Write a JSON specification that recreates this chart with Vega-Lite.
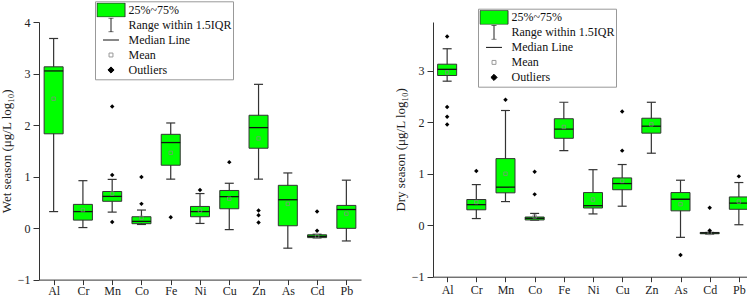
{
  "$schema": "https://vega.github.io/schema/vega-lite/v6.json",
  "padding": {"left": 0, "top": 0, "right": 0, "bottom": 0},
  "background": "white",
  "config": {
    "font": "Liberation Serif",
    "view": {"stroke": null},
    "axis": {"grid": false, "domainColor": "#333", "tickColor": "#333", "labelColor": "#222", "titleColor": "#222", "labelFont": "Liberation Serif", "titleFont": "Liberation Serif", "labelFontSize": 12, "titleFontSize": 13, "titleFontWeight": "normal", "domainWidth": 1, "tickWidth": 1},
    "legend": {"labelFont": "Liberation Serif", "labelFontSize": 12, "labelColor": "#111", "labelOffset": 3, "rowPadding": 0, "padding": 1.5, "strokeColor": "#999", "fillColor": "white", "symbolSize": 784, "symbolStrokeWidth": 1, "symbolOpacity": 1, "clipHeight": 14.4}
  },
  "datasets": {
    "wet": [
      {"el": "Al", "lo": 0.32, "q1": 1.83, "med": 3.05, "q3": 3.13, "hi": 3.68, "mean": 2.51},
      {"el": "Cr", "lo": 0.01, "q1": 0.155, "med": 0.32, "q3": 0.46, "hi": 0.92, "mean": 0.35},
      {"el": "Mn", "lo": 0.31, "q1": 0.52, "med": 0.615, "q3": 0.71, "hi": 0.945, "mean": 0.67},
      {"el": "Co", "lo": 0.07, "q1": 0.085, "med": 0.13, "q3": 0.22, "hi": 0.35, "mean": 0.2},
      {"el": "Fe", "lo": 0.95, "q1": 1.22, "med": 1.66, "q3": 1.82, "hi": 2.04, "mean": 1.46},
      {"el": "Ni", "lo": 0.09, "q1": 0.22, "med": 0.32, "q3": 0.42, "hi": 0.67, "mean": 0.34},
      {"el": "Cu", "lo": -0.03, "q1": 0.375, "med": 0.61, "q3": 0.73, "hi": 0.87, "mean": 0.57},
      {"el": "Zn", "lo": 0.95, "q1": 1.55, "med": 1.95, "q3": 2.19, "hi": 2.79, "mean": 1.74},
      {"el": "As", "lo": -0.39, "q1": 0.045, "med": 0.55, "q3": 0.83, "hi": 1.07, "mean": 0.47},
      {"el": "Cd", "lo": -0.19, "q1": -0.185, "med": -0.16, "q3": -0.13, "hi": -0.12, "mean": -0.16},
      {"el": "Pb", "lo": -0.25, "q1": -0.005, "med": 0.36, "q3": 0.44, "hi": 0.93, "mean": 0.28}
    ],
    "wetOut": [
      {"el": "Mn", "v": 2.36}, {"el": "Mn", "v": 1.03}, {"el": "Mn", "v": 0.12},
      {"el": "Co", "v": 0.99}, {"el": "Co", "v": 0.47},
      {"el": "Fe", "v": 0.21},
      {"el": "Ni", "v": 0.74},
      {"el": "Cu", "v": 1.28},
      {"el": "Zn", "v": 0.34}, {"el": "Zn", "v": 0.25}, {"el": "Zn", "v": 0.11},
      {"el": "Cd", "v": 0.32}, {"el": "Cd", "v": -0.05}
    ],
    "dry": [
      {"el": "Al", "lo": 2.8, "q1": 2.91, "med": 3.03, "q3": 3.13, "hi": 3.43, "mean": 2.97},
      {"el": "Cr", "lo": 0.13, "q1": 0.3, "med": 0.4, "q3": 0.5, "hi": 0.79, "mean": 0.45},
      {"el": "Mn", "lo": 0.46, "q1": 0.63, "med": 0.74, "q3": 1.295, "hi": 2.23, "mean": 1.0},
      {"el": "Co", "lo": 0.1, "q1": 0.103, "med": 0.135, "q3": 0.16, "hi": 0.23, "mean": 0.17},
      {"el": "Fe", "lo": 1.45, "q1": 1.69, "med": 1.87, "q3": 2.07, "hi": 2.39, "mean": 1.91},
      {"el": "Ni", "lo": 0.22, "q1": 0.335, "med": 0.38, "q3": 0.635, "hi": 1.08, "mean": 0.5},
      {"el": "Cu", "lo": 0.37, "q1": 0.69, "med": 0.81, "q3": 0.92, "hi": 1.18, "mean": 0.86},
      {"el": "Zn", "lo": 1.4, "q1": 1.79, "med": 1.925, "q3": 2.08, "hi": 2.39, "mean": 1.96},
      {"el": "As", "lo": -0.235, "q1": 0.28, "med": 0.505, "q3": 0.635, "hi": 0.875, "mean": 0.41},
      {"el": "Cd", "lo": -0.17, "q1": -0.165, "med": -0.15, "q3": -0.14, "hi": -0.14, "mean": -0.15},
      {"el": "Pb", "lo": 0.01, "q1": 0.31, "med": 0.43, "q3": 0.55, "hi": 0.83, "mean": 0.46}
    ],
    "dryOut": [
      {"el": "Al", "v": 3.67}, {"el": "Al", "v": 2.3}, {"el": "Al", "v": 2.11}, {"el": "Al", "v": 1.96},
      {"el": "Cr", "v": 1.055},
      {"el": "Mn", "v": 2.44},
      {"el": "Co", "v": 1.04}, {"el": "Co", "v": 0.6},
      {"el": "Cu", "v": 2.21}, {"el": "Cu", "v": 1.45},
      {"el": "As", "v": -0.58},
      {"el": "Cd", "v": 0.34}, {"el": "Cd", "v": -0.1},
      {"el": "Pb", "v": 0.95}
    ],
    "legendItems": []
  },
  "spacing": 33,
  "hconcat": [
    {
      "width": 322,
      "height": 257.6,
      "resolve": {"scale": {"color": "independent", "shape": "independent", "stroke": "independent"}},
      "layer": [
        {
          "data": {"name": "wet"},
          "mark": {"type": "rule", "color": "#333", "strokeWidth": 1.2, "opacity": 1},
          "encoding": {
            "x": {"field": "el", "type": "nominal", "sort": null,
              "scale": {"type": "point", "domain": ["Al","Cr","Mn","Co","Fe","Ni","Cu","Zn","As","Cd","Pb"], "padding": 0.5},
              "axis": {"title": null, "labelAngle": 0, "tickSize": 5, "labelPadding": 0.5, "labelFontSize": 12}},
            "y": {"field": "lo", "type": "quantitative",
              "scale": {"domain": [-1, 4], "nice": false, "zero": false},
              "axis": {"title": "Wet season (μg/L log₁₀)", "values": [-1, -0.5, 0, 0.5, 1, 1.5, 2, 2.5, 3, 3.5, 4],
                "labelExpr": "datum.value % 1 === 0 ? datum.label : ''",
                "tickSize": {"condition": {"test": "datum.value % 1 !== 0", "value": 3}, "value": 6},
                "labelPadding": 3, "titlePadding": 4}},
            "y2": {"field": "hi"}
          }
        },
        {
          "data": {"name": "wet"},
          "mark": {"type": "tick", "color": "#333", "size": 9, "thickness": 1.2, "opacity": 1},
          "encoding": {"x": {"field": "el", "type": "nominal"}, "y": {"field": "lo", "type": "quantitative"}}
        },
        {
          "data": {"name": "wet"},
          "mark": {"type": "tick", "color": "#333", "size": 9, "thickness": 1.2, "opacity": 1},
          "encoding": {"x": {"field": "el", "type": "nominal"}, "y": {"field": "hi", "type": "quantitative"}}
        },
        {
          "data": {"name": "wet"},
          "mark": {"type": "bar", "size": 19, "fill": "#00ff00", "stroke": "#333", "strokeWidth": 1, "opacity": 1},
          "encoding": {"x": {"field": "el", "type": "nominal"}, "y": {"field": "q1", "type": "quantitative"}, "y2": {"field": "q3"}}
        },
        {
          "data": {"name": "wet"},
          "mark": {"type": "tick", "color": "#111", "size": 19, "thickness": 1.3, "opacity": 1},
          "encoding": {"x": {"field": "el", "type": "nominal"}, "y": {"field": "med", "type": "quantitative"}}
        },
        {
          "data": {"name": "wet"},
          "mark": {"type": "point", "shape": "square", "size": 12, "filled": false, "stroke": "#888", "strokeWidth": 0.7, "opacity": 1},
          "encoding": {"x": {"field": "el", "type": "nominal"}, "y": {"field": "mean", "type": "quantitative"}}
        },
        {
          "data": {"name": "wetOut"},
          "mark": {"type": "point", "shape": "diamond", "size": 20, "filled": true, "color": "#000", "opacity": 1},
          "encoding": {"x": {"field": "el", "type": "nominal"}, "y": {"field": "v", "type": "quantitative"}}
        },
        {
          "data": {"name": "legendItems"},
          "mark": {"type": "point", "filled": true, "opacity": 1},
          "encoding": {
            "shape": {"field": "item", "type": "nominal",
              "scale": {"domain": ["25%~75%", "Range within 1.5IQR", "Median Line", "Mean", "Outliers"],
                "range": ["M-1,-0.5H1V0.5H-1Z", "M-0.18,-0.5H0.18M0,-0.5V0.5M-0.18,0.5H0.18", "M-0.57,0H0.57", "M-0.14,-0.14H0.14V0.14H-0.14Z", "M0,-0.22L0.22,0L0,0.22L-0.22,0Z"]},
              "legend": {"title": null, "orient": "none", "legendX": 56, "legendY": -20.7}},
            "color": {"field": "item", "type": "nominal",
              "scale": {"domain": ["25%~75%", "Range within 1.5IQR", "Median Line", "Mean", "Outliers"],
                "range": ["#00ff00", "transparent", "transparent", "transparent", "#000000"]},
              "legend": {"title": null, "orient": "none", "legendX": 56, "legendY": -20.7}},
            "stroke": {"field": "item", "type": "nominal",
              "scale": {"domain": ["25%~75%", "Range within 1.5IQR", "Median Line", "Mean", "Outliers"],
                "range": ["#333333", "#222222", "#111111", "#999999", "#000000"]},
              "legend": {"title": null, "orient": "none", "legendX": 56, "legendY": -20.7}}
          }
        }
      ]
    },
    {
      "width": 320,
      "height": 254.7,
      "resolve": {"scale": {"color": "independent", "shape": "independent", "stroke": "independent"}},
      "layer": [
        {
          "data": {"name": "dry"},
          "mark": {"type": "rule", "color": "#333", "strokeWidth": 1.2, "opacity": 1},
          "encoding": {
            "x": {"field": "el", "type": "nominal", "sort": null,
              "scale": {"type": "point", "domain": ["Al","Cr","Mn","Co","Fe","Ni","Cu","Zn","As","Cd","Pb"], "padding": 0.485},
              "axis": {"title": null, "labelAngle": 0, "tickSize": 5, "labelPadding": 2.5, "labelFontSize": 12}},
            "y": {"field": "lo", "type": "quantitative",
              "scale": {"domain": [-1, 3.95], "nice": false, "zero": false},
              "axis": {"title": "Dry season (μg/L log₁₀)", "values": [-1, -0.5, 0, 0.5, 1, 1.5, 2, 2.5, 3, 3.5],
                "labelExpr": "datum.value % 1 === 0 ? datum.label : ''",
                "tickSize": {"condition": {"test": "datum.value % 1 !== 0", "value": 3}, "value": 6},
                "labelPadding": 3, "titlePadding": 4}},
            "y2": {"field": "hi"}
          }
        },
        {
          "data": {"name": "dry"},
          "mark": {"type": "tick", "color": "#333", "size": 9, "thickness": 1.2, "opacity": 1},
          "encoding": {"x": {"field": "el", "type": "nominal"}, "y": {"field": "lo", "type": "quantitative"}}
        },
        {
          "data": {"name": "dry"},
          "mark": {"type": "tick", "color": "#333", "size": 9, "thickness": 1.2, "opacity": 1},
          "encoding": {"x": {"field": "el", "type": "nominal"}, "y": {"field": "hi", "type": "quantitative"}}
        },
        {
          "data": {"name": "dry"},
          "mark": {"type": "bar", "size": 19, "fill": "#00ff00", "stroke": "#333", "strokeWidth": 1, "opacity": 1},
          "encoding": {"x": {"field": "el", "type": "nominal"}, "y": {"field": "q1", "type": "quantitative"}, "y2": {"field": "q3"}}
        },
        {
          "data": {"name": "dry"},
          "mark": {"type": "tick", "color": "#111", "size": 19, "thickness": 1.3, "opacity": 1},
          "encoding": {"x": {"field": "el", "type": "nominal"}, "y": {"field": "med", "type": "quantitative"}}
        },
        {
          "data": {"name": "dry"},
          "mark": {"type": "point", "shape": "square", "size": 12, "filled": false, "stroke": "#888", "strokeWidth": 0.7, "opacity": 1},
          "encoding": {"x": {"field": "el", "type": "nominal"}, "y": {"field": "mean", "type": "quantitative"}}
        },
        {
          "data": {"name": "dryOut"},
          "mark": {"type": "point", "shape": "diamond", "size": 20, "filled": true, "color": "#000", "opacity": 1},
          "encoding": {"x": {"field": "el", "type": "nominal"}, "y": {"field": "v", "type": "quantitative"}}
        },
        {
          "data": {"name": "legendItems"},
          "mark": {"type": "point", "filled": true, "opacity": 1},
          "encoding": {
            "shape": {"field": "item", "type": "nominal",
              "scale": {"domain": ["25%~75%", "Range within 1.5IQR", "Median Line", "Mean", "Outliers"],
                "range": ["M-1,-0.5H1V0.5H-1Z", "M-0.18,-0.5H0.18M0,-0.5V0.5M-0.18,0.5H0.18", "M-0.57,0H0.57", "M-0.14,-0.14H0.14V0.14H-0.14Z", "M0,-0.22L0.22,0L0,0.22L-0.22,0Z"]},
              "legend": {"title": null, "orient": "none", "legendX": 45, "legendY": -13.3}},
            "color": {"field": "item", "type": "nominal",
              "scale": {"domain": ["25%~75%", "Range within 1.5IQR", "Median Line", "Mean", "Outliers"],
                "range": ["#00ff00", "transparent", "transparent", "transparent", "#000000"]},
              "legend": {"title": null, "orient": "none", "legendX": 45, "legendY": -13.3}},
            "stroke": {"field": "item", "type": "nominal",
              "scale": {"domain": ["25%~75%", "Range within 1.5IQR", "Median Line", "Mean", "Outliers"],
                "range": ["#333333", "#222222", "#111111", "#999999", "#000000"]},
              "legend": {"title": null, "orient": "none", "legendX": 45, "legendY": -13.3}}
          }
        }
      ]
    }
  ],
  "resolve": {"scale": {"color": "independent", "shape": "independent", "stroke": "independent"}, "legend": {"color": "independent", "shape": "independent", "stroke": "independent"}}
}
